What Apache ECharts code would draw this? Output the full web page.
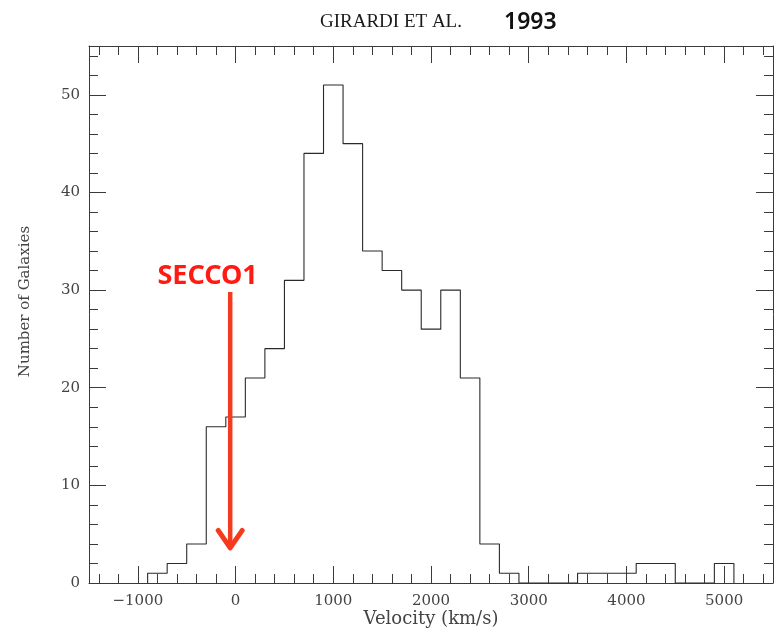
<!DOCTYPE html>
<html>
<head>
<meta charset="utf-8">
<title>Girardi et al. 1993 – velocity distribution</title>
<script src="https://cdn.jsdelivr.net/npm/echarts@6/dist/echarts.min.js"></script>
<style>
  html, body { margin: 0; padding: 0; background: #ffffff; }
  #chart { width: 781px; height: 629px; }
</style>
</head>
<body>
<div id="chart"></div>
<script>
// Histogram bins: 200 km/s wide, given by their centre velocity
const binCenters = [-800, -600, -400, -200, 0, 200, 400, 600, 800, 1000, 1200, 1400, 1600, 1800,
                    2000, 2200, 2400, 2600, 2800, 3000, 3200, 3400, 3600, 3800, 4000, 4200, 4400,
                    4600, 4800, 5000];
const galaxyCounts = [1, 2, 4, 16, 17, 21, 24, 31, 44, 51, 45, 34, 32, 30,
                      26, 30, 21, 4, 1, 0, 0, 0, 1, 1, 1, 2, 2,
                      0, 0, 2];
const binWidth = 200;

// Axis ranges
const velocityRange = [-1500, 5500];
const countRange = [0, 55];

// Annotation: SECCO1 marker (velocity in km/s, counts)
const markerName = 'SECCO1';
const markerVelocity = -55;
const markerFrom = 29.8;
const markerTo = 3.6;
const markerLabelAt = [-286, 31.4];

// Outline of the histogram as a closed step path
const outline = [[binCenters[0] - binWidth / 2, 0]];
binCenters.forEach((c, i) => {
  outline.push([c - binWidth / 2, galaxyCounts[i]]);
  outline.push([c + binWidth / 2, galaxyCounts[i]]);
});
outline.push([binCenters[binCenters.length - 1] + binWidth / 2, 0]);

const chart = echarts.init(document.getElementById('chart'), null, { renderer: 'canvas' });

const frameColor = '#3a3a3a';
const serif = 'DejaVu Serif';

function xAxisDef(showLabels, position) {
  return {
    type: 'value',
    position: position,
    min: velocityRange[0], max: velocityRange[1],
    minInterval: 1000, maxInterval: 1000,
    name: showLabels ? 'Velocity (km/s)' : '',
    nameLocation: 'middle',
    nameGap: 27,
    nameMoveOverlap: false,
    nameTextStyle: { fontFamily: serif, fontSize: 18, color: '#444' },
    axisLine: { show: true, onZero: false, lineStyle: { color: frameColor, width: 1 } },
    axisTick: { show: true, inside: true, length: 17, lineStyle: { color: frameColor, width: 1 } },
    minorTick: { show: true, splitNumber: 5, length: 9, lineStyle: { color: frameColor, width: 1 } },
    axisLabel: {
      show: showLabels, margin: 11, showMinLabel: false, showMaxLabel: false,
      fontFamily: serif, fontSize: 15, color: '#444',
      formatter: v => (v < 0 ? '\u2212' + Math.abs(v) : String(v))
    },
    splitLine: { show: false }
  };
}

function yAxisDef(showLabels, position) {
  return {
    type: 'value',
    position: position,
    min: countRange[0], max: countRange[1],
    minInterval: 10, maxInterval: 10,
    name: showLabels ? 'Number of Galaxies' : '',
    nameLocation: 'middle',
    nameGap: 56,
    nameTextStyle: { fontFamily: serif, fontSize: 15, color: '#444', padding: [0, 0, 0, 26] },
    axisLine: { show: true, onZero: false, lineStyle: { color: frameColor, width: 1 } },
    axisTick: { show: true, inside: true, length: 17, lineStyle: { color: frameColor, width: 1 } },
    minorTick: { show: true, splitNumber: 5, length: 9, lineStyle: { color: frameColor, width: 1 } },
    axisLabel: {
      show: showLabels, margin: 9, showMaxLabel: false,
      fontFamily: serif, fontSize: 15, color: '#444'
    },
    splitLine: { show: false }
  };
}

chart.setOption({
  animation: false,
  backgroundColor: '#ffffff',
  title: [
    {
      text: 'GIRARDI ET AL.',
      left: 315, top: 8,
      textStyle: { fontFamily: 'Liberation Serif', fontSize: 19, fontWeight: 'normal', color: '#1a1a1a' }
    },
    {
      text: '1993',
      left: 499, top: 6,
      textStyle: { fontFamily: 'Noto Sans', fontSize: 23, fontWeight: 600, color: '#111' }
    }
  ],
  grid: { left: 89, right: 8, top: 46, bottom: 46, containLabel: false, outerBoundsMode: 'none' },
  xAxis: [xAxisDef(true, 'bottom'), xAxisDef(false, 'top')],
  yAxis: [yAxisDef(true, 'left'), yAxisDef(false, 'right')],
  series: [
    {
      name: 'Galaxies',
      type: 'line',
      xAxisIndex: 0, yAxisIndex: 0,
      data: outline,
      showSymbol: false,
      symbol: 'none',
      lineStyle: { color: '#2a2a2a', width: 1.1 },
      z: 3
    }
  ]
});

// SECCO1 arrow and label, placed through the axis scales
function drawMarker() {
  const top = chart.convertToPixel({ gridIndex: 0 }, [markerVelocity, markerFrom]);
  const tip = chart.convertToPixel({ gridIndex: 0 }, [markerVelocity, markerTo]);
  const lbl = chart.convertToPixel({ gridIndex: 0 }, markerLabelAt);
  const arrowColor = '#f53a1f';
  const head = 12;
  chart.setOption({
    graphic: [
      {
        type: 'line',
        shape: { x1: top[0], y1: top[1], x2: tip[0], y2: tip[1] - 2 },
        style: { stroke: arrowColor, lineWidth: 4.5, lineCap: 'butt' },
        z: 10
      },
      {
        type: 'polyline',
        shape: { points: [[tip[0] - head, tip[1] - head * 1.45], [tip[0], tip[1]], [tip[0] + head, tip[1] - head * 1.45]] },
        style: { stroke: arrowColor, lineWidth: 5, lineCap: 'round', lineJoin: 'round', fill: null },
        z: 10
      },
      {
        type: 'text',
        x: lbl[0], y: lbl[1],
        style: {
          text: markerName,
          fill: '#ff1a12',
          font: 'bold 27px "Noto Sans"',
          align: 'center',
          verticalAlign: 'middle'
        },
        z: 10
      }
    ]
  });
}
drawMarker();
</script>
</body>
</html>
